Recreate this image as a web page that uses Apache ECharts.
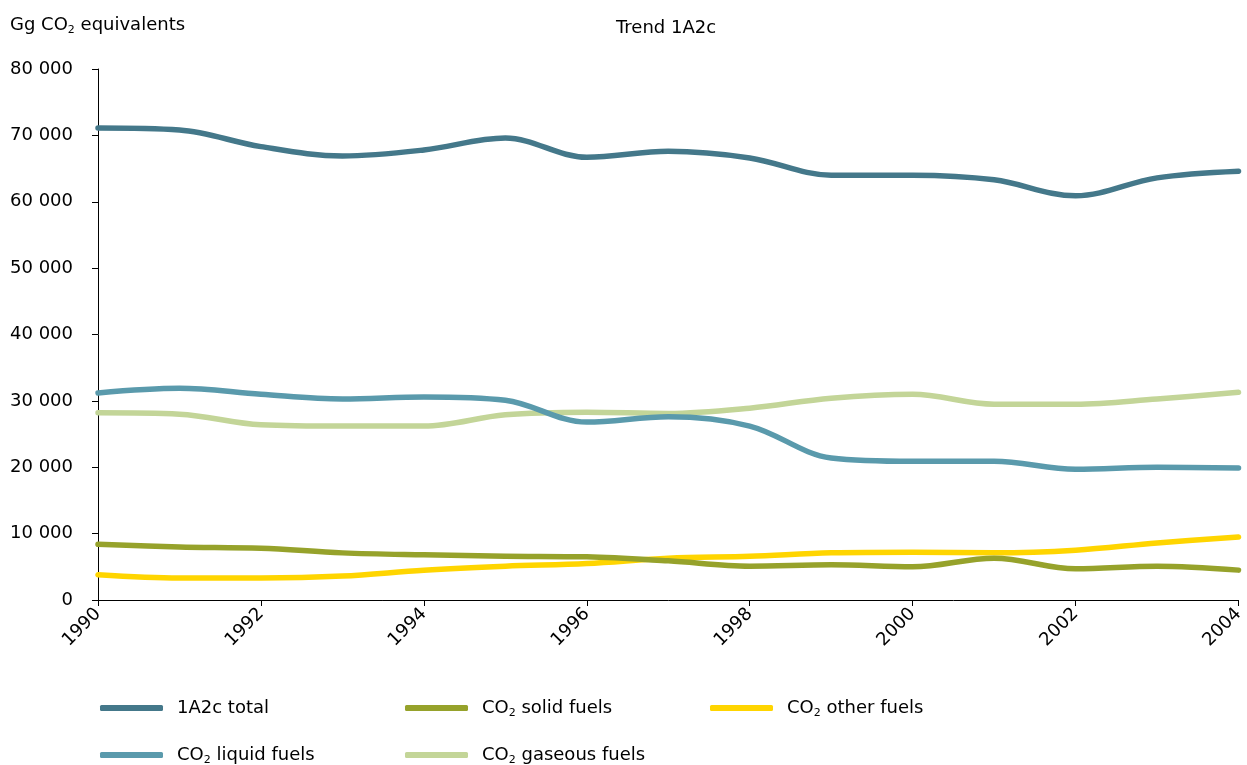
<!DOCTYPE html>
<html><head><meta charset="utf-8">
<script src="https://cdn.jsdelivr.net/npm/echarts@6/dist/echarts.min.js"></script>
<style>html,body{margin:0;padding:0;background:#fff}#c{width:1247px;height:765px}</style>
</head><body><div id="c"></div>
<script>
const years = [1990,1991,1992,1993,1994,1995,1996,1997,1998,1999,2000,2001,2002,2003,2004];
const total   = [71100,70800,68300,66900,67800,69600,66700,67600,66600,64000,64000,63300,60900,63600,64600];
const liquid  = [31200,31900,31000,30300,30600,30100,26800,27600,26200,21400,20900,20900,19700,20000,19900];
const gaseous = [28200,28000,26400,26200,26200,27900,28300,28100,28900,30400,31000,29500,29500,30300,31300];
const solid   = [8400,8000,7800,7100,6800,6600,6500,5900,5100,5300,5000,6300,4700,5100,4500];
const other   = [3800,3300,3300,3600,4500,5100,5500,6300,6600,7100,7200,7100,7500,8600,9500];
const yTicks = [0,10000,20000,30000,40000,50000,60000,70000,80000];

const names = ['1A2c total','CO2 solid fuels','CO2 other fuels','CO2 liquid fuels','CO2 gaseous fuels'];
const colors = ['#44788a','#96a22b','#ffd500','#5a9aac','#c3d598'];
const datas = [total, solid, other, liquid, gaseous];
const FONT = 'DejaVu Sans';
const FS = 18;
const sub = {fontSize: 11, verticalAlign: 'bottom', padding: [10,0,0,0], fontFamily: FONT, color:'#000'};
const fmtName = n => n.replace('CO2', 'CO{sub|2}');

const legendPos = [[100,699],[405,699],[710,699],[100,746],[405,746]];
const chart = echarts.init(document.getElementById('c'));
chart.setOption({
  animation: false,
  title: {
    text: 'Trend 1A2c', left: 666, top: 19, textAlign: 'center', padding: 0,
    textStyle: {fontFamily: FONT, fontSize: FS, fontWeight: 'normal', color: '#000'}
  },
  graphic: [{
    type: 'text', left: 10, top: 16,
    style: {
      text: 'Gg CO{sub|2} equivalents',
      font: FS + 'px "DejaVu Sans"', fill: '#000',
      rich: {sub: {fontSize: 11, padding: [10,0,0,0], verticalAlign:'bottom', fill:'#000', fontFamily: FONT}}
    }
  }],
  legend: names.map((n, i) => ({
    data: [n], left: legendPos[i][0], top: legendPos[i][1], padding: 0,
    itemWidth: 63, itemHeight: 6, itemGap: 10,
    icon: 'roundRect',
    formatter: fmtName,
    textStyle: {fontFamily: FONT, fontSize: FS, color: '#000', padding: [0,0,0,9], rich: {sub: sub}}
  })),
  grid: {left: 98, right: 6, top: 69, bottom: 165, containLabel: false},
  xAxis: {
    type: 'value', min: 1990, max: 2004, interval: 2,
    axisLine: {lineStyle: {color: '#000', width: 1}},
    axisTick: {length: 6, lineStyle: {color: '#000'}},
    splitLine: {show: false},
    axisLabel: {rotate: 45, fontFamily: FONT, fontSize: FS, color: '#000', margin: 11, formatter: v => String(v)}
  },
  yAxis: {
    type: 'value', min: yTicks[0], max: yTicks[yTicks.length-1], interval: 10000,
    axisLine: {show: true, lineStyle: {color: '#000', width: 1}},
    axisTick: {show: true, length: 6, lineStyle: {color: '#000'}},
    splitLine: {show: false},
    axisLabel: {fontFamily: FONT, fontSize: FS, color: '#000', margin: 25,
      formatter: v => v === 0 ? '0' : String(v).replace(/\B(?=(\d{3})+(?!\d))/g, ' ')}
  },
  series: names.map((n, i) => ({
    name: n, type: 'line', smooth: 0.35, symbol: 'none',
    data: years.map((y, k) => [y, datas[i][k]]),
    lineStyle: {width: 5.5, color: colors[i], cap: 'round', join: 'round'},
    itemStyle: {color: colors[i]},
    z: [5,3,2,4,1][i]
  }))
});
</script></body></html>
